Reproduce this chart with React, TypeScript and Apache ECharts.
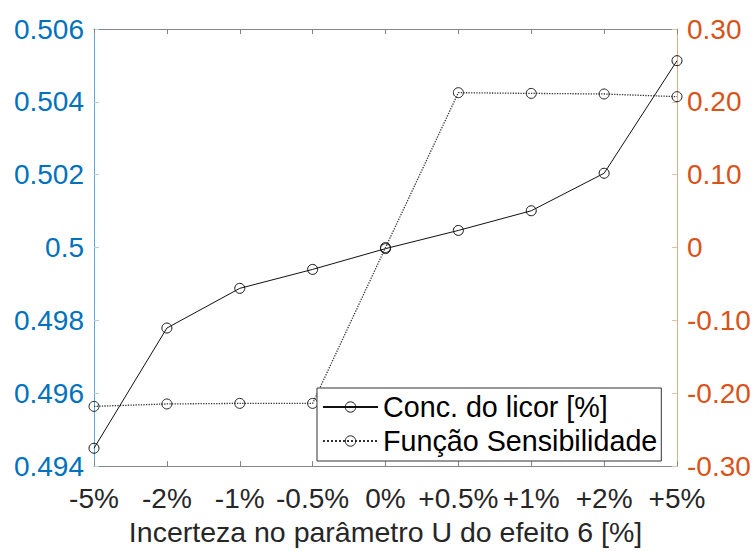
import React, { useEffect, useRef } from "react";
import * as echarts from "echarts";

const categories = ["-5%", "-2%", "-1%", "-0.5%", "0%", "+0.5%", "+1%", "+2%", "+5%"];
const concLicor = [0.49449, 0.49779, 0.49888, 0.4994, 0.49997, 0.50047, 0.50101, 0.50204, 0.50513];
const sensibilidade = [-0.218, -0.2147, -0.2139, -0.2139, 0, 0.2126, 0.2116, 0.2108, 0.2071];
const seriesNames = ["Conc. do licor [%]", "Função Sensibilidade"];
const xAxisTitle = "Incerteza no parâmetro U do efeito 6 [%]";

const FONT = '"Liberation Sans", Arial, Helvetica, sans-serif';

export default function App() {
  const ref = useRef<HTMLDivElement>(null);
  useEffect(() => {
    if (!ref.current) return;
    const chart = echarts.init(ref.current, null, { renderer: "svg" });
    const gray = "#858585";
    chart.setOption({
      animation: false,
      backgroundColor: "#ffffff",
      grid: { left: 94, right: 77, top: 29, bottom: 76, containLabel: false },
      legend: {
        orient: "vertical",
        left: 317,
        top: 388,
        padding: [4, 4, 5, 5],
        itemWidth: 55,
        itemHeight: 13,
        itemGap: 4,
        borderColor: "#333333",
        borderWidth: 1,
        borderRadius: 0,
        backgroundColor: "#ffffff",
        textStyle: { fontSize: 28.7, fontFamily: FONT, color: "#000000", lineHeight: 30 },
        itemStyle: { borderWidth: 1 },
        data: seriesNames,
      },
      xAxis: [
        {
          type: "category",
          data: categories,
          boundaryGap: false,
          position: "bottom",
          name: xAxisTitle,
          nameLocation: "middle",
          nameGap: 44,
          nameTextStyle: { fontSize: 28.5, fontFamily: FONT, color: "#262626" },
          axisLine: { show: true, onZero: false, lineStyle: { color: gray, width: 1 } },
          axisTick: { show: true, inside: true, length: 5, lineStyle: { color: gray } },
          axisLabel: { interval: 0, fontSize: 28, fontFamily: FONT, color: "#262626", margin: 18 },
          splitLine: { show: false },
        },
        {
          type: "category",
          data: categories,
          boundaryGap: false,
          position: "top",
          axisLine: { show: true, onZero: false, lineStyle: { color: gray, width: 1 } },
          axisTick: { show: true, inside: true, length: 5, lineStyle: { color: gray } },
          axisLabel: { show: false },
          splitLine: { show: false },
        },
      ],
      yAxis: [
        {
          type: "value",
          position: "left",
          min: 0.494,
          max: 0.506,
          interval: 0.002,
          axisLine: { show: true, lineStyle: { color: "#5FA8DC", width: 1 } },
          axisTick: { show: true, inside: true, length: 5, lineStyle: { color: "#A9CFEA" } },
          axisLabel: {
            fontSize: 28,
            fontFamily: FONT,
            color: "#0072BD",
            margin: 10,
            formatter: (v: number) => String(parseFloat(v.toFixed(3))),
          },
          splitLine: { show: false },
        },
        {
          type: "value",
          position: "right",
          min: -0.3,
          max: 0.3,
          interval: 0.1,
          axisLine: { show: true, lineStyle: { color: "#D9AE8C", width: 1 } },
          axisTick: { show: true, inside: true, length: 5, lineStyle: { color: "#E3C2AA" } },
          axisLabel: {
            fontSize: 28,
            fontFamily: FONT,
            color: "#D95319",
            margin: 10,
            formatter: (v: number) => (Math.abs(v) < 1e-9 ? "0" : v.toFixed(2)),
          },
          splitLine: { show: false },
        },
      ],
      series: [
        {
          name: seriesNames[0],
          type: "line",
          xAxisIndex: 0,
          yAxisIndex: 0,
          data: concLicor,
          symbol: "circle",
          symbolSize: 10,
          itemStyle: { color: "rgba(0,0,0,0)", borderColor: "#111111", borderWidth: 1 },
          lineStyle: { color: "#111111", width: 1, type: "solid" },
          z: 3,
        },
        {
          name: seriesNames[1],
          type: "line",
          xAxisIndex: 0,
          yAxisIndex: 1,
          data: sensibilidade,
          symbol: "circle",
          symbolSize: 10,
          itemStyle: { color: "rgba(0,0,0,0)", borderColor: "#222222", borderWidth: 1 },
          lineStyle: { color: "#333333", width: 1.3, type: "dotted" },
          z: 2,
        },
      ],
    });
    return () => chart.dispose();
  }, []);
  return (
    <div
      ref={ref}
      style={{ position: "absolute", left: 0, top: 0, width: 754, height: 551, background: "#fff" }}
    />
  );
}
